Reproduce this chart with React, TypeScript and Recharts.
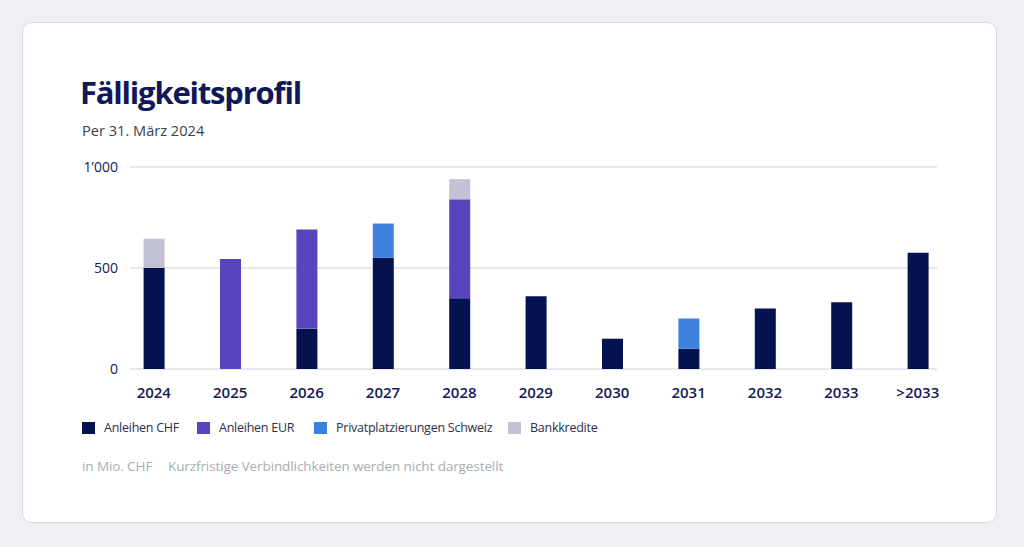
import React from 'react';
import { BarChart, Bar, XAxis, YAxis, CartesianGrid } from 'recharts';

const years = ['2024', '2025', '2026', '2027', '2028', '2029', '2030', '2031', '2032', '2033', '>2033'];
const anleihenCHF = [500, 0, 200, 550, 350, 360, 150, 100, 300, 330, 575];
const anleihenEUR = [0, 545, 490, 0, 490, 0, 0, 0, 0, 0, 0];
const privatplatzierungen = [0, 0, 0, 170, 0, 0, 0, 150, 0, 0, 0];
const bankkredite = [145, 0, 0, 0, 100, 0, 0, 0, 0, 0, 0];
const yTicks = [0, 500, 1000];

const seriesNames = ['Anleihen CHF', 'Anleihen EUR', 'Privatplatzierungen Schweiz', 'Bankkredite'];
const seriesColors = ['#04124f', '#5745bf', '#3d83dd', '#c1c3d5'];
const legendX = [82, 197, 314, 508];

const data = years.map((y, i) => ({
  year: y,
  chf: anleihenCHF[i],
  eur: anleihenEUR[i],
  privat: privatplatzierungen[i],
  bank: bankkredite[i],
}));

const FONT = '"Open Sans", "Noto Sans", sans-serif';
const fmt = (v: number) => (v >= 1000 ? `${Math.floor(v / 1000)}’${String(v % 1000).padStart(3, '0')}` : String(v));

export default function App() {
  return (
    <div style={{ position: 'fixed', left: 0, top: 0, width: 1024, height: 547, background: '#eef0f4', fontFamily: FONT, overflow: 'hidden' }}>
      <div style={{ position: 'absolute', left: 22, top: 22, width: 973, height: 499, background: '#ffffff', border: '1px solid #d6d9df', borderRadius: 10 }} />
      <div style={{ position: 'absolute', left: 80, top: 71, fontSize: 31, fontWeight: 700, color: '#111858', letterSpacing: -1.2, lineHeight: '42px', whiteSpace: 'nowrap' }}>
        Fälligkeitsprofil
      </div>
      <div style={{ position: 'absolute', left: 82, top: 120, fontSize: 14.6, color: '#3b3f52', lineHeight: '20px', whiteSpace: 'nowrap' }}>
        Per 31. März 2024
      </div>
      <div style={{ position: 'absolute', left: 0, top: 0 }}>
        <BarChart width={1024} height={547} data={data} margin={{ top: 167, right: 87, bottom: 148, left: 70 }}>
          <CartesianGrid vertical={false} stroke="#cfd1d8" strokeWidth={1} />
          <XAxis
            dataKey="year"
            axisLine={false}
            tickLine={false}
            tickSize={0}
            tickMargin={18}
            height={30}
            interval={0}
            padding={{ left: -14.4, right: -19 }}
            tick={{ fill: '#131a55', fontSize: 15, fontWeight: 600, fontFamily: FONT }}
          />
          <YAxis
            domain={[0, 1000]}
            ticks={yTicks}
            tickFormatter={fmt}
            axisLine={false}
            tickLine={false}
            tickSize={0}
            tickMargin={12}
            width={60}
            tick={{ fill: '#131a55', fontSize: 14, fontWeight: 500, fontFamily: FONT }}
          />
          <Bar dataKey="chf" stackId="a" fill={seriesColors[0]} barSize={21} isAnimationActive={false} />
          <Bar dataKey="eur" stackId="a" fill={seriesColors[1]} barSize={21} isAnimationActive={false} />
          <Bar dataKey="privat" stackId="a" fill={seriesColors[2]} barSize={21} isAnimationActive={false} />
          <Bar dataKey="bank" stackId="a" fill={seriesColors[3]} barSize={21} isAnimationActive={false} />
        </BarChart>
      </div>
      {seriesNames.map((n, i) => (
        <div key={n} style={{ position: 'absolute', left: legendX[i], top: 419, display: 'flex', alignItems: 'center', fontSize: 12.5, letterSpacing: -0.25, color: '#2c3046', whiteSpace: 'nowrap' }}>
          <div style={{ width: 13, height: 12, background: seriesColors[i], marginRight: 9 }} />
          <span style={{ lineHeight: '18px' }}>{n}</span>
        </div>
      ))}
      <div style={{ position: 'absolute', left: 82, top: 456, fontSize: 13.5, letterSpacing: -0.1, color: '#a9acb6', whiteSpace: 'nowrap', lineHeight: '20px' }}>
        <span>in Mio. CHF</span>
      </div>
      <div style={{ position: 'absolute', left: 168, top: 456, fontSize: 13.5, letterSpacing: -0.1, color: '#a9acb6', whiteSpace: 'nowrap', lineHeight: '20px' }}>
        <span>Kurzfristige Verbindlichkeiten werden nicht dargestellt</span>
      </div>
    </div>
  );
}
